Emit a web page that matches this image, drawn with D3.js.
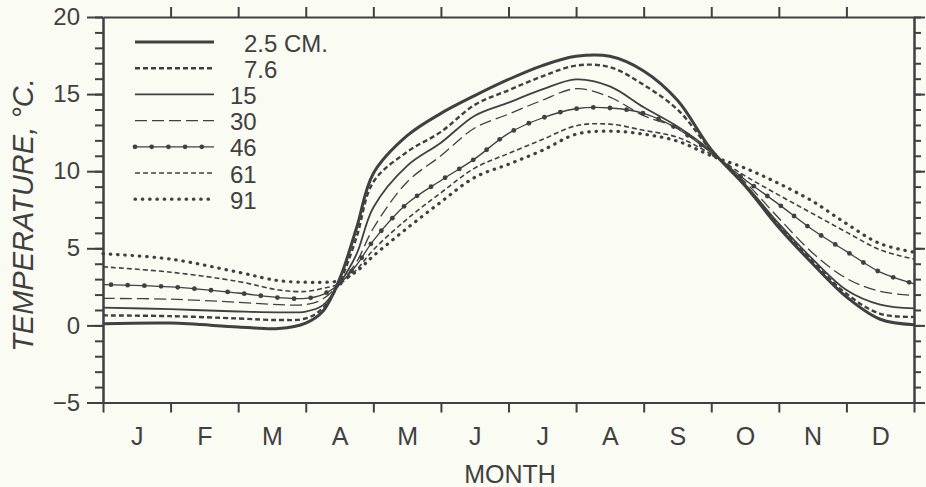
<!DOCTYPE html>
<html>
<head>
<meta charset="utf-8">
<script src="https://cdn.jsdelivr.net/npm/d3@7"></script>
<style>
  html, body { margin: 0; padding: 0; background: #fafbf3; }
  svg { display: block; font-family: "Liberation Sans", Arial, Helvetica, sans-serif; }
  .axis path, .axis line { stroke: #404040; stroke-width: 2; }
  .axis text { fill: #404040; font-family: "Liberation Sans", Arial, Helvetica, sans-serif; }
</style>
</head>
<body>
<svg id="chart" width="926" height="487"></svg>
<script>
// time in months from 1 January
const months = [0, 1, 2, 2.6, 3, 3.25, 3.5, 3.75, 4, 4.5, 5, 5.5, 6, 6.5, 7, 7.5, 8, 8.5, 9, 9.5, 10, 10.5, 11, 11.5, 12]

// soil temperature (deg C) at each depth
const depth2_5 = [0.1, 0.15, -0.1, -0.2, 0.15, 0.9, 3.0, 6.3, 9.85, 12.3, 13.75, 14.9, 15.95, 16.85, 17.45, 17.45, 16.5, 14.6, 11.4, 9.05, 6.35, 4.0, 1.85, 0.4, 0.05]
const depth7_6 = [0.65, 0.6, 0.45, 0.35, 0.45, 1.1, 2.8, 5.7, 9.3, 11.25, 12.55, 14.3, 15.25, 16.15, 16.85, 16.75, 15.6, 14.0, 11.35, 9.1, 6.45, 4.15, 2.05, 0.75, 0.55]
const depth15 = [1.15, 1.05, 0.9, 0.85, 0.9, 1.3, 2.7, 4.6, 7.65, 10.35, 11.85, 13.6, 14.45, 15.3, 15.95, 15.5, 14.15, 12.9, 11.3, 9.15, 6.6, 4.3, 2.3, 1.35, 1.1]
const depth30 = [1.75, 1.7, 1.5, 1.35, 1.35, 1.7, 2.7, 4.1, 6.3, 9.3, 11.0, 12.8, 13.7, 14.6, 15.35, 14.8, 13.6, 12.8, 11.2, 9.3, 6.95, 4.7, 3.05, 2.2, 1.95]
const depth46 = [2.65, 2.5, 2.1, 1.8, 1.75, 2.0, 2.7, 3.9, 5.5, 7.9, 9.4, 10.8, 12.45, 13.45, 14.05, 14.1, 13.75, 12.75, 11.2, 9.45, 7.85, 6.2, 4.8, 3.45, 2.7]
const depth61 = [3.8, 3.45, 2.85, 2.3, 2.2, 2.4, 2.7, 3.6, 4.9, 6.9, 8.6, 10.2, 11.15, 12.05, 12.95, 13.05, 12.65, 12.2, 11.1, 9.7, 8.45, 7.25, 6.05, 4.9, 4.3]
const depth91 = [4.65, 4.3, 3.45, 2.9, 2.8, 2.8, 2.9, 3.5, 4.5, 6.3, 8.0, 9.6, 10.45, 11.35, 12.4, 12.6, 12.4, 11.95, 11.0, 10.2, 9.2, 8.05, 6.6, 5.3, 4.75]

const depthLabels = ['2.5 CM.', '7.6', '15', '30', '46', '61', '91']
const monthLabels = ['J', 'F', 'M', 'A', 'M', 'J', 'J', 'A', 'S', 'O', 'N', 'D']
const yTicks = [-5, 0, 5, 10, 15, 20]

const ink = '#404040'
const lineStyles = [
  { width: 3, dash: null },
  { width: 2.4, dash: '5,3' },
  { width: 1.8, dash: null },
  { width: 1.3, dash: '12,5' },
  { width: 1.3, dash: null, dots: true },
  { width: 1.6, dash: '5,3' },
  { width: 3.2, dash: '0.5,6.8', round: true }
]

const series = [depth2_5, depth7_6, depth15, depth30, depth46, depth61, depth91]
  .map((values, i) => ({ label: depthLabels[i], values, style: lineStyles[i] }))

const svg = d3.select('#chart')
const x = d3.scaleLinear().domain([0, 12]).range([103, 914])
const y = d3.scaleLinear().domain([-5, 20]).range([402.5, 17])

const line = d3.line()
  .x(d => x(d[0]))
  .y(d => y(d[1]))
  .curve(d3.curveCatmullRom.alpha(0.5))

const styleLine = (sel, st) => sel
  .attr('fill', 'none')
  .attr('stroke', ink)
  .attr('stroke-width', st.width)
  .attr('stroke-dasharray', st.dash)
  .attr('stroke-linecap', st.round ? 'round' : 'butt')

const addDots = (g, node, step, offset) => {
  const len = node.getTotalLength()
  for (let s = offset; s <= len; s += step) {
    const p = node.getPointAtLength(s)
    g.append('circle').attr('cx', p.x).attr('cy', p.y).attr('r', 2.4).attr('fill', ink)
  }
}

// axes
const minor = d3.range(-5, 21, 1)
svg.append('g').attr('class', 'axis')
  .attr('transform', `translate(${x(0)},0)`)
  .call(d3.axisLeft(y).tickValues(minor).tickSize(8).tickSizeOuter(0).tickFormat(''))
svg.append('g').attr('class', 'axis')
  .attr('transform', `translate(${x(0)},0)`)
  .call(d3.axisLeft(y).tickValues(yTicks).tickSize(16).tickSizeOuter(0).tickPadding(7).tickFormat(d3.format('d')))
  .call(g => g.selectAll('text').attr('font-size', 24))
svg.append('g').attr('class', 'axis')
  .attr('transform', `translate(${x(12)},0)`)
  .call(d3.axisRight(y).tickValues(minor).tickSize(7).tickSizeOuter(0).tickFormat(''))
svg.append('g').attr('class', 'axis')
  .attr('transform', `translate(${x(12)},0)`)
  .call(d3.axisRight(y).tickValues(yTicks).tickSize(11).tickSizeOuter(0).tickFormat(''))
svg.append('g').attr('class', 'axis')
  .attr('transform', `translate(0,${y(-5)})`)
  .call(d3.axisBottom(x).tickValues(d3.range(0, 13)).tickSize(10).tickSizeOuter(0).tickFormat(''))
svg.append('g').attr('class', 'axis')
  .attr('transform', `translate(0,${y(20)})`)
  .call(d3.axisTop(x).tickValues(d3.range(1, 12)).tickSize(10).tickSizeOuter(0).tickFormat(''))
svg.append('g').attr('class', 'axis')
  .attr('transform', `translate(0,${y(-5)})`)
  .call(d3.axisBottom(x).tickValues(d3.range(0.5, 12, 1)).tickSize(0).tickPadding(25).tickFormat((d, i) => monthLabels[i]))
  .call(g => g.select('.domain').remove())
  .call(g => g.selectAll('text').attr('font-size', 25))

svg.append('text')
  .attr('x', 510).attr('y', 483)
  .attr('text-anchor', 'middle')
  .attr('font-size', 25)
  .attr('fill', ink)
  .text('MONTH')

svg.append('text')
  .attr('transform', 'translate(33,215) rotate(-90)')
  .attr('text-anchor', 'middle')
  .attr('font-size', 29)
  .attr('font-style', 'italic')
  .attr('fill', ink)
  .text('TEMPERATURE, °C.')

// curves
const curves = svg.append('g')
series.forEach(s => {
  const path = curves.append('path')
    .datum(months.map((m, i) => [m, s.values[i]]))
    .attr('d', line)
    .call(styleLine, s.style)
  if (s.style.dots) addDots(curves, path.node(), 16.7, 8)
})

// legend
const legend = svg.append('g')
series.forEach((s, i) => {
  const ly = 42 + i * 26.2
  const path = legend.append('path')
    .attr('d', `M135,${ly}H214`)
    .call(styleLine, s.style)
  if (s.style.dots) addDots(legend, path.node(), 16.7, 0)
  legend.append('text')
    .attr('x', s.label.includes('.') ? 244 : 230)
    .attr('y', ly + 1)
    .attr('dominant-baseline', 'central')
    .attr('font-size', 24)
    .attr('fill', ink)
    .text(s.label)
})
</script>
</body>
</html>
